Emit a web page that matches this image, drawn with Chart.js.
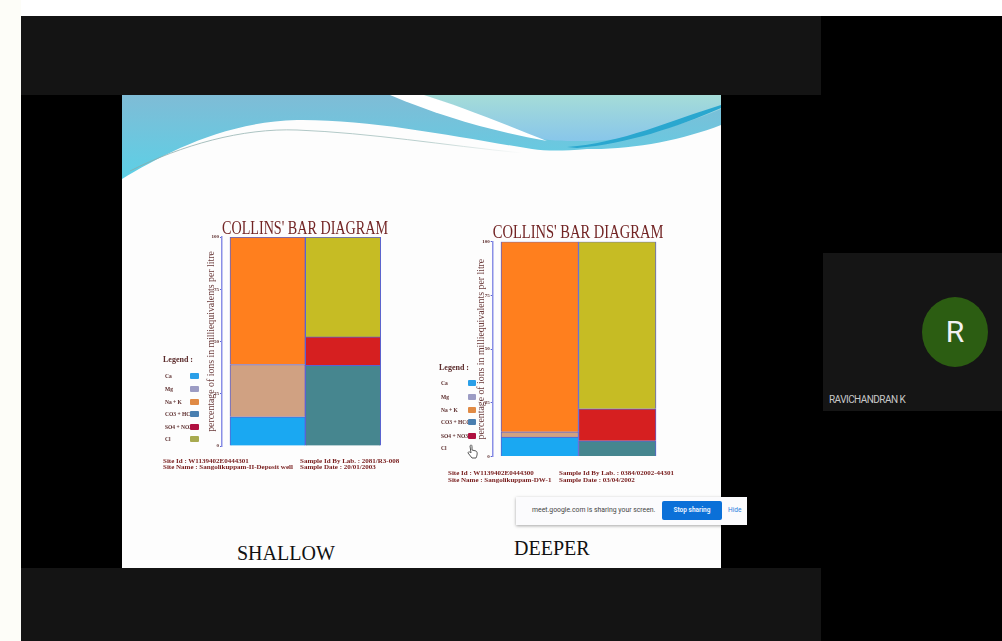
<!DOCTYPE html>
<html><head><meta charset="utf-8">
<script src="https://cdn.jsdelivr.net/npm/chart.js@4"></script>
<style>
html,body{margin:0;padding:0;background:#000;width:1002px;height:641px;overflow:hidden}
#stage{position:relative;width:1002px;height:641px;overflow:hidden;background:#000;filter:blur(.55px)}
.abs{position:absolute}
.serif{font-family:"Liberation Serif",serif}
.foot{position:absolute;font:bold 7px "Liberation Serif",serif;color:#7a2020;white-space:nowrap;line-height:6.5px}
.leg{position:absolute;font:bold 5.5px "Liberation Serif",serif;color:#5a2a2a;white-space:nowrap;line-height:6px}
.sw{position:absolute;height:6px;border-radius:1px}
canvas{display:block}
</style></head><body>
<div id="stage">
 <div class="abs" style="left:0;top:0;width:1002px;height:16px;background:#fff"></div>
 <div class="abs" style="left:0;top:0;width:21px;height:641px;background:#fdfdf8"></div>
 <div class="abs" style="left:21px;top:16px;width:800px;height:79px;background:#141414"></div>
 <div class="abs" style="left:21px;top:568px;width:800px;height:73px;background:#141414"></div>
 <div class="abs" style="left:823px;top:253px;width:179px;height:158px;background:#151515"></div>
 <div class="abs" style="left:122px;top:95px;width:599px;height:473px;background:#fdfdfd"></div>
 <svg class="abs" style="left:122px;top:95px" width="599" height="100" viewBox="0 0 599 100">
  <defs>
   <linearGradient id="g1" x1="0" y1="0" x2="0" y2="1"><stop offset="0" stop-color="#7fbcd6"/><stop offset="1" stop-color="#5cd0e6"/></linearGradient>
   <linearGradient id="g2" x1="0" y1="0" x2="0" y2="1"><stop offset="0" stop-color="#a5dcd8"/><stop offset="1" stop-color="#88c6ea"/></linearGradient>
   <linearGradient id="g3" x1="0" y1="0" x2="1" y2="0"><stop offset="0" stop-color="#8aa9a8"/><stop offset=".75" stop-color="#a9c4c2"/><stop offset="1" stop-color="#fdfdfd"/></linearGradient>
  </defs>
  <path d="M0,0H599V30C560,45 510,55 465,54C440,56 425,56 410,54C340,43 250,24 175,25C100,27 40,60 0,84Z" fill="url(#g1)"/>
  <path d="M268,0H599V14C560,30 510,46 465,46C440,46 430,46 415,43C380,30 330,8 300,0Z" fill="url(#g2)"/>
  <path d="M268,0C320,22 370,36 425,46C385,30 335,10 302,0Z" fill="#fff"/>
  <path d="M445,52C500,48 550,25 599,10V13C555,32 505,49 455,53Z" fill="#2aa7cf"/>
  <path d="M8,76C60,50 120,33 175,35C250,38 320,50 400,58" fill="none" stroke="url(#g3)" stroke-width=".8"/>
 </svg>

 <div class="abs" style="left:150px;top:215px"><canvas id="c1" width="260" height="240" style="width:260px;height:240px"></canvas></div>
 <div class="abs" style="left:425px;top:219px"><canvas id="c2" width="260" height="246" style="width:260px;height:246px"></canvas></div>
 <div id="overlay"></div>

 <div class="abs serif" style="left:237px;top:541px;font-size:20px;line-height:24px;color:#111">SHALLOW</div>
 <div class="abs serif" style="left:514px;top:536px;font-size:20px;line-height:24px;color:#111">DEEPER</div>

 <svg class="abs" style="left:466px;top:444px" width="14" height="15" viewBox="0 0 14 15">
  <path d="M4,2C5,0 6,1 6,3V6L10,7C12,8 11,12 10,14H6L2,9C2,8 3,7 5,9Z" fill="#fff" stroke="#555" stroke-width="1"/>
 </svg>

 <div class="abs" style="left:516px;top:497px;width:231px;height:28px;background:#fbfbfd;box-shadow:0 1px 3px rgba(0,0,0,.35)"></div>
 <div class="abs" style="left:532px;top:505px;font:6.85px/10px Roboto,sans-serif;color:#444;white-space:nowrap">meet.google.com is sharing your screen.</div>
 <div class="abs" style="left:662px;top:501px;width:60px;height:19px;background:#0b70d8;border-radius:2px;color:#e6f0ff;font:bold 6.5px/19px Roboto,sans-serif;text-align:center">Stop sharing</div>
 <div class="abs" style="left:728px;top:505px;font:6.5px/10px Roboto,sans-serif;color:#2a7de0">Hide</div>

 <div class="abs" style="left:922px;top:297px;width:66px;height:70px;border-radius:50%;background:#2c5d12;color:#f2f2f2;font:30px/70px Roboto,sans-serif;text-align:center">R</div>
 <div class="abs" style="left:829px;top:394px;font:10px/12px Roboto,sans-serif;letter-spacing:-.55px;color:#c8c8c8;white-space:nowrap">RAVICHANDRAN K</div>
</div>
<script>
// ---- data (percent of milliequivalents per litre) ----
const seriesNames = ["Ca", "Mg", "Na + K", "CO3 + HCO3", "SO4 + NO3", "Cl"];
const barColors = ["#1aa8f2", "#d0a182", "#ff7f1e", "#46868f", "#d61f20", "#c6bc24"];
const legendColors = ["#2a9fe8", "#9c9cc4", "#e08a45", "#4a7fb0", "#b01040", "#a8aa50"];
const seriesColumn = [0, 0, 0, 1, 1, 1];
const columnCentres = [0.5, 1.5];
const shallowValues = [14, 25, 61, 38.6, 13.6, 47.8];
const deeperValues = [9, 2.5, 88.5, 7.3, 14.9, 77.8];
const yTicks = [0, 25, 50, 75, 100];
const chartTitle = "COLLINS' BAR DIAGRAM";
const yTitle = "percentage of ions in milliequivalents per litre";
const shallowFooter = ["Site Id :  W1139402E0444301", "Site Name : Sangolikuppam-II-Deposit well", "Sample Id By Lab. : 2081/R3-008", "Sample Date : 20/01/2003"];
const deeperFooter = ["Site Id :   W1139402E0444300", "Site Name : Sangolikuppam-DW-1", "Sample Id By Lab. : 0384/02002-44301", "Sample Date : 03/04/2002"];

function makeChart(id, values, cfg) {
  return new Chart(document.getElementById(id), {
    type: "bar",
    data: {
      datasets: seriesNames.map((name, i) => ({
        label: name,
        data: [{ x: columnCentres[seriesColumn[i]], y: values[i] }],
        backgroundColor: barColors[i],
        borderColor: "#5a62d2",
        borderWidth: 1,
        barPercentage: 1,
        categoryPercentage: 1,
        stack: "all"
      }))
    },
    options: {
      responsive: false, animation: false, devicePixelRatio: 1,
      layout: { padding: cfg.padding },
      plugins: {
        legend: { display: false }, tooltip: { enabled: false },
        title: { display: true, text: chartTitle, color: "#722424", align: "center", fullSize: false,
          font: { family: "Liberation Serif", size: cfg.titleSize, weight: "normal", lineHeight: 1 },
          padding: cfg.titlePad }
      },
      scales: {
        x: { type: "linear", stacked: true, display: false, offset: false, min: cfg.xMin, max: cfg.xMax },
        y: { stacked: true, min: 0, max: 100,
          afterFit: s => { s.width = cfg.yWidth; },
          afterBuildTicks: s => { s.ticks = yTicks.map(v => ({ value: v })); },
          grid: { drawOnChartArea: false, tickLength: 2, color: "#5a62d2" },
          border: { color: "#8a8fe6", width: 1.5 },
          ticks: { color: "#5a2a2a", font: { family: "Liberation Serif", size: 5, weight: "bold" }, padding: 1 },
          title: { display: true, text: yTitle, color: "#6a3a3a", padding: 0,
            font: { family: "Liberation Serif", size: 9.8, weight: "normal" } } }
      }
    }
  });
}
makeChart("c1", shallowValues, { xMin: -0.106, xMax: 2.097, yWidth: 16, titleSize: 17.8,
  padding: { top: 0, left: 56, right: 22, bottom: 9 }, titlePad: { top: 5, bottom: -0.8 } });
makeChart("c2", deeperValues, { xMin: -0.107, xMax: 2.094, yWidth: 16.7, titleSize: 18.2,
  padding: { top: 0, left: 51, right: 21.7, bottom: 8.5 }, titlePad: { top: 5, bottom: -0.5 } });

// legends and footers as text, built from the arrays
const ov = document.getElementById("overlay");
function add(cls, left, top, txt, bg, w) {
  const d = document.createElement("div");
  d.className = cls; d.style.left = left + "px"; d.style.top = top + "px";
  if (txt) d.textContent = txt;
  if (bg) { d.style.background = bg; d.style.width = w + "px"; }
  ov.appendChild(d);
}
function legend(x, swX, swW, rowsY, headY, skipLast) {
  add("leg", x - 2, headY - 3, "Legend :");
  ov.lastChild.style.fontSize = "8px";
  seriesNames.forEach((n, i) => {
    add("leg", x, rowsY[i] - 3, n);
    if (!(skipLast && i === 5)) add("sw", swX, rowsY[i] - 3, "", legendColors[i], swW);
  });
}
legend(165, 190, 9, [376, 389, 402, 414, 427, 439], 360, false);
legend(441, 468, 8, [383, 397, 410, 422, 436, 448], 368, true);
add("foot", 163, 458, shallowFooter[0]); add("foot", 163, 464, shallowFooter[1]);
add("foot", 300, 458, shallowFooter[2]); add("foot", 300, 464, shallowFooter[3]);
add("foot", 448, 470, deeperFooter[0]); add("foot", 448, 477, deeperFooter[1]);
add("foot", 559, 470, deeperFooter[2]); add("foot", 559, 477, deeperFooter[3]);
</script>
</body></html>
